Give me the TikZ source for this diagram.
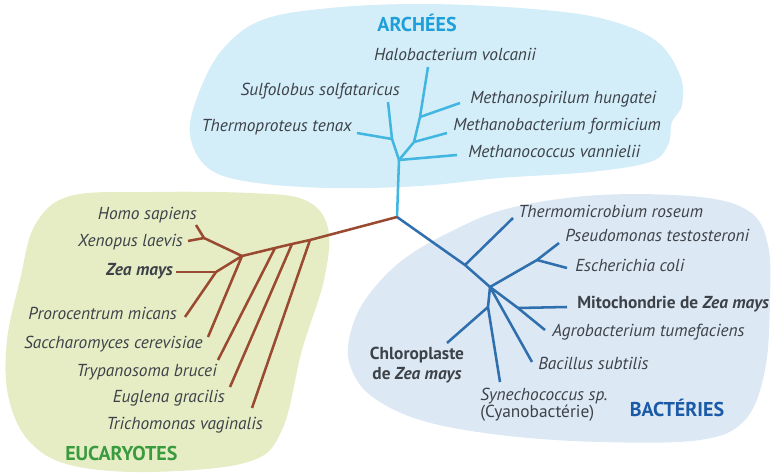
\documentclass[tikz,border=0pt]{standalone}
\usepackage{fontspec}
\setmainfont{PT Sans}
\definecolor{txt}{HTML}{3D4248}
\definecolor{archfill}{HTML}{D3EEF9}
\definecolor{archline}{HTML}{41B6E0}
\definecolor{archtitle}{HTML}{1E9FD9}
\definecolor{bactfill}{HTML}{DCE8F4}
\definecolor{bactline}{HTML}{2F6FAE}
\definecolor{bacttitle}{HTML}{1A5AA6}
\definecolor{eukfill}{HTML}{E6EDC5}
\definecolor{eukline}{HTML}{9A4A30}
\definecolor{euktitle}{HTML}{3A9B3E}
\begin{document}
\begin{tikzpicture}[x=0.75pt, y=-0.75pt,
  leaf/.style={text=txt, inner sep=0pt, font=\fontsize{13}{12}\selectfont\itshape},
  leafb/.style={text=txt, inner sep=0pt, font=\fontsize{13}{15}\selectfont\bfseries},
  leafr/.style={text=txt, inner sep=0pt, font=\fontsize{13}{12}\selectfont},
  clade/.style={inner sep=0pt, font=\fontsize{15}{16}\selectfont\bfseries},
  arch/.style={draw=archline, line width=1.9pt, line join=round},
  bact/.style={draw=bactline, line width=1.9pt, line join=round},
  euk/.style={draw=eukline, line width=1.9pt, line join=round}]
  \useasboundingbox (0,0) rectangle (771,474);
  % groups
  \fill[archfill] plot[smooth cycle, tension=0.6] coordinates {(262,20) (330,8) (420,4) (520,8) (600,18) (655,40) (680,75) (682,105) (672,122) (668,145) (650,162) (590,172) (500,178) (420,186) (330,188) (250,182) (208,168) (190,135) (198,95) (222,50)};
  \fill[eukfill] plot[smooth cycle, tension=0.6] coordinates {(70,196) (150,192) (250,193) (305,200) (328,228) (324,280) (302,350) (282,430) (248,462) (150,472) (70,465) (28,440) (8,395) (7,340) (20,280) (35,225)};
  \fill[bactfill] plot[smooth cycle, tension=0.6] coordinates {(350,335) (365,300) (400,262) (450,232) (510,208) (600,195) (700,197) (750,212) (768,245) (770,300) (765,370) (745,420) (700,440) (600,442) (500,435) (420,420) (370,395) (350,365)};

  \coordinate (root) at (397,217);
  % archees
  \coordinate (a1) at (399,160);
  \coordinate (a2) at (392,139);
  \coordinate (a3) at (414,142);
  \coordinate (a4) at (420,117);
  \coordinate (tHalo) at (428,67);
  \coordinate (tSulfo) at (388,102);
  \coordinate (tThermop) at (357,133);
  \coordinate (tMspir) at (460,103);
  \coordinate (tMbact) at (447,133);
  \coordinate (tMcocc) at (457,155);
  % eucaryotes
  \coordinate (e4) at (310,240);
  \coordinate (e3) at (292,244);
  \coordinate (e2) at (275,248);
  \coordinate (e1) at (242,256);
  \coordinate (eh) at (204,238);
  \coordinate (ez) at (216,272);
  \coordinate (tHomo) at (196,225);
  \coordinate (tXeno) at (188,241);
  \coordinate (tZea) at (176,272);
  \coordinate (tProro) at (185,317);
  \coordinate (tSacch) at (208,337);
  \coordinate (tTrypa) at (218,360);
  \coordinate (tEugl) at (230,387);
  \coordinate (tTrich) at (252,408);
  % bacteries
  \coordinate (b1) at (465,265);
  \coordinate (b2) at (490,287);
  \coordinate (b3) at (537,260);
  \coordinate (b4) at (518,308);
  \coordinate (b5) at (488,307);
  \coordinate (tTmicro) at (513,218);
  \coordinate (tPseudo) at (559,243);
  \coordinate (tEcoli) at (567,268);
  \coordinate (tMito) at (567,307);
  \coordinate (tAgro) at (545,330);
  \coordinate (tBacil) at (532,362);
  \coordinate (tSyne) at (500,382);
  \coordinate (tChloro) at (447,343);

  \draw[arch] (root) -- (a1) -- (a3) -- (a4) -- (tHalo);
  \draw[arch] (a1) -- (a2) -- (tSulfo);
  \draw[arch] (a2) -- (tThermop);
  \draw[arch] (a1) -- (tMcocc);
  \draw[arch] (a3) -- (tMbact);
  \draw[arch] (a4) -- (tMspir);

  \draw[euk] (root) -- (e4) -- (e3) -- (e2) -- (e1);
  \draw[euk] (e4) -- (tTrich);
  \draw[euk] (e3) -- (tEugl);
  \draw[euk] (e2) -- (tTrypa);
  \draw[euk] (e1) -- (tSacch);
  \draw[euk] (e1) -- (ez) -- (tProro);
  \draw[euk] (ez) -- (tZea);
  \draw[euk] (e1) -- (eh) -- (tHomo);
  \draw[euk] (eh) -- (tXeno);

  \draw[bact] (root) -- (b1) -- (b2);
  \draw[bact] (b1) -- (tTmicro);
  \draw[bact] (b2) -- (b3) -- (tPseudo);
  \draw[bact] (b3) -- (tEcoli);
  \draw[bact] (b2) -- (b4) -- (tAgro);
  \draw[bact] (b4) -- (tMito);
  \draw[bact] (b2) -- (tBacil);
  \draw[bact] (b2) -- (b5) -- (tSyne);
  \draw[bact] (b5) -- (tChloro);

  \node[clade, text=archtitle] (archees) at (417,23) {ARCHÉES};
  \node[leaf] (halo) at (455,54) {Halobacterium volcanii};
  \node[leaf, anchor=mid east] (sulfo) at (400,92) {Sulfolobus solfataricus};
  \node[leaf, anchor=mid east] (thermop) at (352,128) {Thermoproteus tenax};
  \node[leaf, anchor=mid west] (mspir) at (470,100) {Methanospirilum hungatei};
  \node[leaf, anchor=mid west] (mbact) at (453,127) {Methanobacterium formicium};
  \node[leaf, anchor=mid west] (mcocc) at (468,154) {Methanococcus vannielii};

  \node[leaf, anchor=mid east] (homo) at (197,216) {Homo sapiens};
  \node[leaf, anchor=mid east] (xeno) at (183,243) {Xenopus laevis};
  \node[leafb, anchor=mid east] (zea) at (173,272) {\itshape Zea mays};
  \node[leaf, anchor=mid east] (proro) at (177,316) {Prorocentrum micans};
  \node[leaf, anchor=mid east] (sacch) at (203,345) {Saccharomyces cerevisiae};
  \node[leaf, anchor=mid east] (trypa) at (217,373) {Trypanosoma brucei};
  \node[leaf, anchor=mid east] (eugl) at (225,399) {Euglena gracilis};
  \node[leaf, anchor=mid east] (trich) at (263,426) {Trichomonas vaginalis};
  \node[clade, text=euktitle, anchor=mid west] (eucaryotes) at (65,457) {EUCARYOTES};

  \node[leaf, anchor=mid west] (tmicro) at (518,214) {Thermomicrobium roseum};
  \node[leaf, anchor=mid west] (pseudo) at (565,238) {Pseudomonas testosteroni};
  \node[leaf, anchor=mid west] (ecoli) at (575,268) {Escherichia coli};
  \node[leafb, anchor=mid west] (mito) at (577,305) {Mitochondrie de \textit{Zea mays}};
  \node[leaf, anchor=mid west] (agro) at (552,333) {Agrobacterium tumefaciens};
  \node[leaf, anchor=mid west] (bacil) at (538,366) {Bacillus subtilis};
  \node[leafb, align=center] (chloro) at (417,365) {Chloroplaste\\de \textit{Zea mays}};
  \node[leafr, align=left, anchor=west] (syne) at (480,405) {\textit{Synechococcus sp.}\\(Cyanobactérie)};
  \node[clade, text=bacttitle] (bacteries) at (677,408) {BACTÉRIES};
\end{tikzpicture}
\end{document}
